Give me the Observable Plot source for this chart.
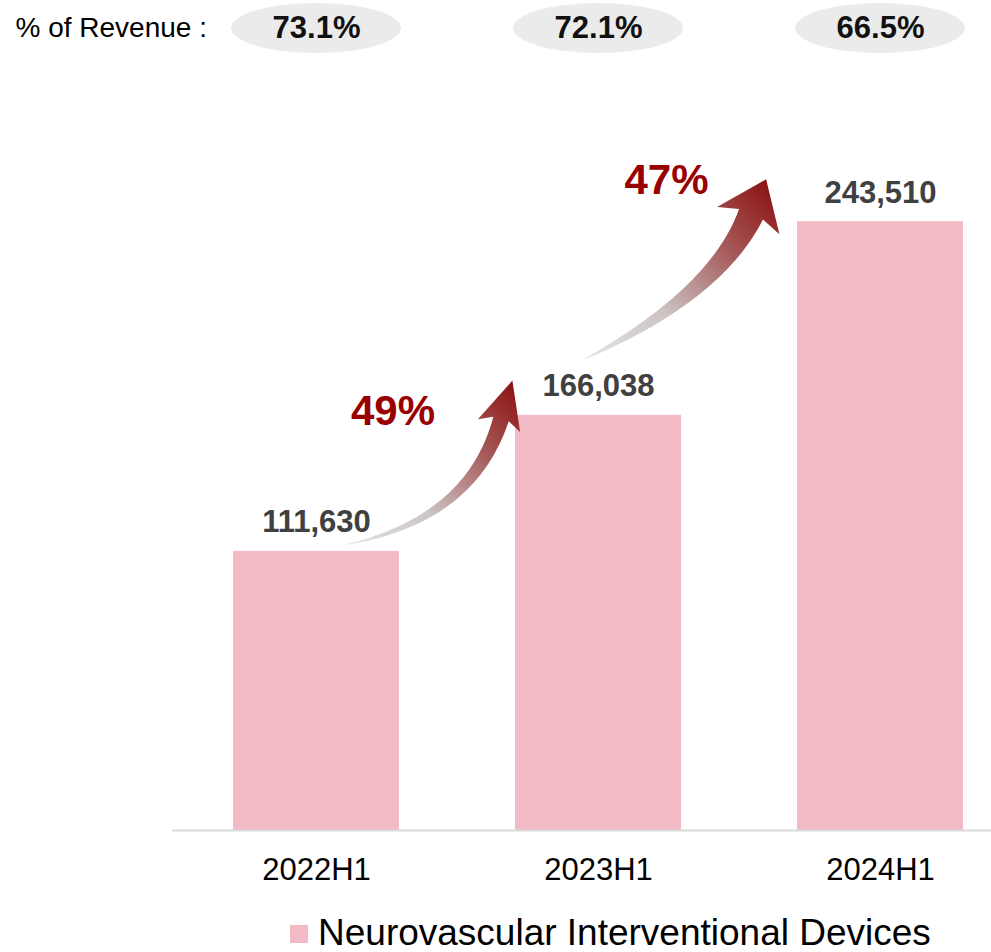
<!DOCTYPE html>
<html>
<head>
<meta charset="utf-8">
<script src="https://cdn.jsdelivr.net/npm/d3@7"></script>
<script src="https://cdn.jsdelivr.net/npm/@observablehq/plot@0.6"></script>
<style>
  html, body { margin: 0; padding: 0; background: #fff; }
  body { width: 991px; height: 952px; overflow: hidden; font-family: "Liberation Sans", Arial, sans-serif; }
  #legend { height: 38px; line-height: 38px; padding-left: 290px; font-size: 37px; color: #000; white-space: nowrap; }
  #legend .sw { display: inline-block; width: 18px; height: 18px; background: #f2bac4; margin-right: 10px; vertical-align: 2px; }
</style>
</head>
<body>
<div id="chart"></div>
<div id="legend"><span class="sw"></span>Neurovascular Interventional Devices</div>
<script>
// ---- data ----
const periods = ["2022H1", "2023H1", "2024H1"];
const revenue = [111630, 166038, 243510];
const revenueShare = [73.1, 72.1, 66.5];
const growthFrom = ["2022H1", "2023H1"];
const growthTo = ["2023H1", "2024H1"];
const growthLabels = ["49%", "47%"];
const seriesName = "Neurovascular Interventional Devices";

const rows = periods.map((p, i) => ({period: p, value: revenue[i], share: revenueShare[i]}));
const growth = growthFrom.map((f, i) => ({from: f, to: growthTo[i], label: growthLabels[i]}));
const valueOf = p => revenue[periods.indexOf(p)];

// ---- styling / geometry config (pixel offsets relative to scales) ----
const BAR = "#f2bac4";
const arrowGeo = [
  {t: [28.5, -6], c: [-44, -31], b: [-14, 4], w: 16, hw: 22, hl: 40},
  {t: [-15, -55], c: [-81, -120], b: [-46, -7], w: 26, hw: 34, hl: 38}
];
const labelOffsets = [[76.5, -4], [68, -41]];

function pillsMark(index, scales) {
  const {x} = scales;
  const bw = x.bandwidth();
  const g = d3.create("svg:g");
  rows.forEach(r => {
    g.append("ellipse")
      .attr("cx", x(r.period) + bw / 2)
      .attr("cy", 28)
      .attr("rx", 85)
      .attr("ry", 25)
      .attr("fill", "#ebebeb");
  });
  return g.node();
}

function arrowsMark(index, scales) {
  const {x, y} = scales;
  const bw = x.bandwidth();
  const g = d3.create("svg:g");
  const defs = g.append("defs");
  growth.forEach((gr, i) => {
    const geo = arrowGeo[i];
    const va = valueOf(gr.from), vb = valueOf(gr.to);
    const xa = x(gr.from), xb = x(gr.to);
    const T = [xa + bw / 2 + geo.t[0], y(va) + geo.t[1]];
    const C = [xb + geo.c[0], y(va) + geo.c[1]];
    const B = [xb + geo.b[0], y(vb) + geo.b[1]];
    const N = 48;
    const left = [], right = [];
    for (let k = 0; k <= N; k++) {
      const t = k / N, u = 1 - t;
      const px = u * u * T[0] + 2 * u * t * C[0] + t * t * B[0];
      const py = u * u * T[1] + 2 * u * t * C[1] + t * t * B[1];
      let dx = 2 * u * (C[0] - T[0]) + 2 * t * (B[0] - C[0]);
      let dy = 2 * u * (C[1] - T[1]) + 2 * t * (B[1] - C[1]);
      const len = Math.hypot(dx, dy);
      dx /= len; dy /= len;
      const nx = -dy, ny = dx;
      const w = geo.w * Math.pow(t, 0.8) / 2;
      left.push([px + nx * w, py + ny * w]);
      right.push([px - nx * w, py - ny * w]);
    }
    let dx = B[0] - C[0], dy = B[1] - C[1];
    const len = Math.hypot(dx, dy);
    dx /= len; dy /= len;
    const nx = -dy, ny = dx;
    const P = [B[0] + dx * geo.hl, B[1] + dy * geo.hl];
    const bl = [B[0] + nx * geo.hw - dx * 7, B[1] + ny * geo.hw - dy * 7];
    const br = [B[0] - nx * geo.hw - dx * 7, B[1] - ny * geo.hw - dy * 7];
    const pts = [...left, bl, P, br, ...right.reverse()];
    const id = "arrowGrad" + i;
    const grad = defs.append("linearGradient")
      .attr("id", id)
      .attr("gradientUnits", "userSpaceOnUse")
      .attr("x1", T[0]).attr("y1", T[1])
      .attr("x2", P[0]).attr("y2", P[1]);
    [[0, "#e4e4e4"], [0.35, "#cdc4c4"], [0.7, "#a65a5a"], [1, "#8c1212"]].forEach(([o, c]) =>
      grad.append("stop").attr("offset", o).attr("stop-color", c));
    g.append("path")
      .attr("d", "M" + pts.map(p => p[0].toFixed(2) + "," + p[1].toFixed(2)).join("L") + "Z")
      .attr("fill", `url(#${id})`);
  });
  return g.node();
}

const chart = Plot.plot({
  width: 991,
  height: 914,
  marginLeft: 172,
  marginRight: 0,
  marginTop: 0,
  marginBottom: 84,
  style: {fontFamily: "'Liberation Sans', Arial, sans-serif", background: "#fff", overflow: "visible"},
  x: {domain: periods, paddingInner: 0.413, paddingOuter: 0.154, align: 0.68, label: null},
  y: {domain: [0, 332000], axis: null},
  marks: [
    Plot.barY(rows, {x: "period", y: "value", fill: BAR}),
    Plot.ruleY([0], {stroke: "#d9d9d9", strokeWidth: 2}),
    Plot.axisX({tickSize: 0, tickPadding: 27, fontSize: 31, fill: "#000", label: null}),
    Plot.text(rows, {x: "period", y: "value", text: d => d3.format(",")(d.value), dy: -29,
      fontSize: 31, fontWeight: "bold", fill: "#404040"}),
    pillsMark,
    Plot.text(rows, {x: "period", text: d => d.share.toFixed(1) + "%", frameAnchor: "top", dy: 28,
      lineAnchor: "middle", fontSize: 31, fontWeight: "bold", fill: "#111"}),
    Plot.text(["% of Revenue :"], {text: d => d, frameAnchor: "top-left", dx: 15 - 172, dy: 28,
      lineAnchor: "middle", textAnchor: "start", fontSize: 28, fill: "#000"}),
    arrowsMark,
    ...growth.map((gr, i) => Plot.text([gr], {
      x: "from", y: d => valueOf(d.to), text: "label",
      dx: labelOffsets[i][0], dy: labelOffsets[i][1],
      fontSize: 42, fontWeight: "bold", fill: "#990000"
    }))
  ]
});
document.getElementById("chart").appendChild(chart);
</script>
</body>
</html>
